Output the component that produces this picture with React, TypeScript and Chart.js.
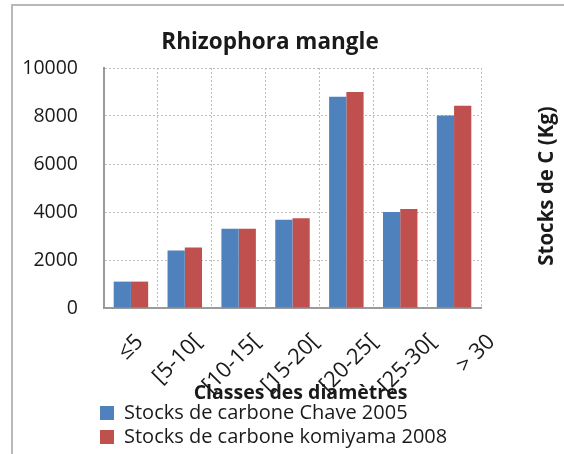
import React, { useEffect, useRef } from "react";
import { Chart, registerables } from "chart.js";

Chart.register(...registerables);

const categories = ["≤5", "[5-10[", "[10-15[", "[15-20[", "[20-25[", "[25-30[", "> 30"];
const chave2005 = [1100, 2400, 3300, 3680, 8800, 4000, 8020];
const komiyama2008 = [1100, 2520, 3300, 3740, 9000, 4120, 8430];
const yTickValues = [0, 2000, 4000, 6000, 8000, 10000];
const seriesNames = ["Stocks de carbone Chave 2005", "Stocks de carbone komiyama 2008"];
const chartTitle = "Rhizophora mangle";
const xAxisTitle = "Classes des diamètres";
const yAxisTitle = "Stocks de C (Kg)";

const FONT = "'Open Sans', 'Noto Sans', sans-serif";
const TEXT = "#1a1a1a";

const axisTitlesPlugin = {
  id: "axisTitles",
  afterLayout(chart: any) {
    if (chart.legend) {
      chart.legend.left -= 8;
      chart.legend.right -= 8;
    }
  },
  afterDraw(chart: any) {
    const { ctx, chartArea } = chart;
    ctx.save();
    ctx.fillStyle = TEXT;
    ctx.textAlign = "center";
    ctx.textBaseline = "middle";
    ctx.font = `bold 19.5px ${FONT}`;
    ctx.fillText(xAxisTitle, (chartArea.left + chartArea.right) / 2 + 8, chartArea.bottom + 85);
    ctx.translate(chartArea.right + 66, (chartArea.top + chartArea.bottom) / 2 - 2);
    ctx.rotate(-Math.PI / 2);
    ctx.font = `bold 20.5px ${FONT}`;
    ctx.fillText(yAxisTitle, 0, 0);
    ctx.restore();
  },
};

export default function App() {
  const canvasRef = useRef<HTMLCanvasElement | null>(null);

  useEffect(() => {
    if (!canvasRef.current) return;
    const chart = new Chart(canvasRef.current, {
      type: "bar",
      data: {
        labels: categories,
        datasets: [
          {
            label: seriesNames[0],
            data: chave2005,
            backgroundColor: "#4F81BD",
            borderWidth: 0,
            categoryPercentage: 0.64,
            barPercentage: 1.0,
          },
          {
            label: seriesNames[1],
            data: komiyama2008,
            backgroundColor: "#C0504D",
            borderWidth: 0,
            categoryPercentage: 0.64,
            barPercentage: 1.0,
          },
        ],
      },
      options: {
        responsive: false,
        animation: false,
        layout: { padding: { left: 0, right: 24, top: 0, bottom: -3 } },
        plugins: {
          title: {
            display: true,
            text: chartTitle,
            color: TEXT,
            font: { family: FONT, size: 22.5, weight: "bold" },
            padding: { top: 29, bottom: 12 },
          },
          legend: {
            display: true,
            position: "bottom",
            align: "start",
            fullSize: false,
            labels: {
              boxWidth: 14,
              boxHeight: 14,
              padding: 4,
              color: TEXT,
              font: { family: FONT, size: 20 },
            },
          },
          tooltip: { enabled: false },
        },
        scales: {
          x: {
            grid: { color: "#bdbdbd", drawTicks: false, offset: true },
            border: { display: true, color: "#9a9a9a", width: 2, dash: [2, 2] },
            ticks: { display: false },
            afterFit: (scale: any) => {
              scale.height = 0;
            },
          },
          xLabels: {
            type: "linear",
            position: "bottom",
            offset: false,
            min: -0.215,
            max: 6.215,
            afterBuildTicks: (scale: any) => {
              scale.ticks = categories.map((_, i) => ({ value: i }));
            },
            grid: { display: false, drawTicks: false, offset: false },
            border: { display: false },
            ticks: {
              color: TEXT,
              font: { family: FONT, size: 22 },
              minRotation: 45,
              maxRotation: 45,
              autoSkip: false,
              padding: 21,
              labelOffset: 23,
              callback: (v: any) => categories[Math.round(Number(v))] ?? "",
            },
            afterFit: (scale: any) => {
              scale.height = 91;
            },
          },
          y: {
            min: 0,
            max: 10000,
            afterBuildTicks: (scale: any) => {
              scale.ticks = yTickValues.map((v) => ({ value: v }));
            },
            grid: { color: "#bdbdbd", drawTicks: false },
            border: { display: true, color: "#9a9a9a", width: 2, dash: [2, 2] },
            ticks: {
              color: TEXT,
              font: { family: FONT, size: 19.5 },
              padding: 26,
              callback: (v: any) => String(v),
            },
            afterFit: (scale: any) => {
              scale.width = 104;
            },
          },
          y2: {
            type: "linear",
            position: "right",
            display: true,
            grid: { display: false },
            border: { display: false },
            ticks: { display: false },
            afterFit: (scale: any) => {
              scale.width = 59;
            },
          },
        },
      },
      plugins: [axisTitlesPlugin],
    });
    return () => chart.destroy();
  }, []);

  return (
    <div style={{ position: "absolute", left: 0, top: 0, width: 564, height: 454, background: "#fff", overflow: "hidden" }}>
      <div
        style={{
          position: "absolute",
          left: 11,
          top: 4,
          width: 600,
          height: 500,
          borderLeft: "2px solid #b8b8b8",
          borderTop: "2px solid #b8b8b8",
        }}
      />
      <canvas
        ref={canvasRef}
        width={564}
        height={454}
        style={{ position: "absolute", left: 0, top: 0, display: "block" }}
      />
    </div>
  );
}
